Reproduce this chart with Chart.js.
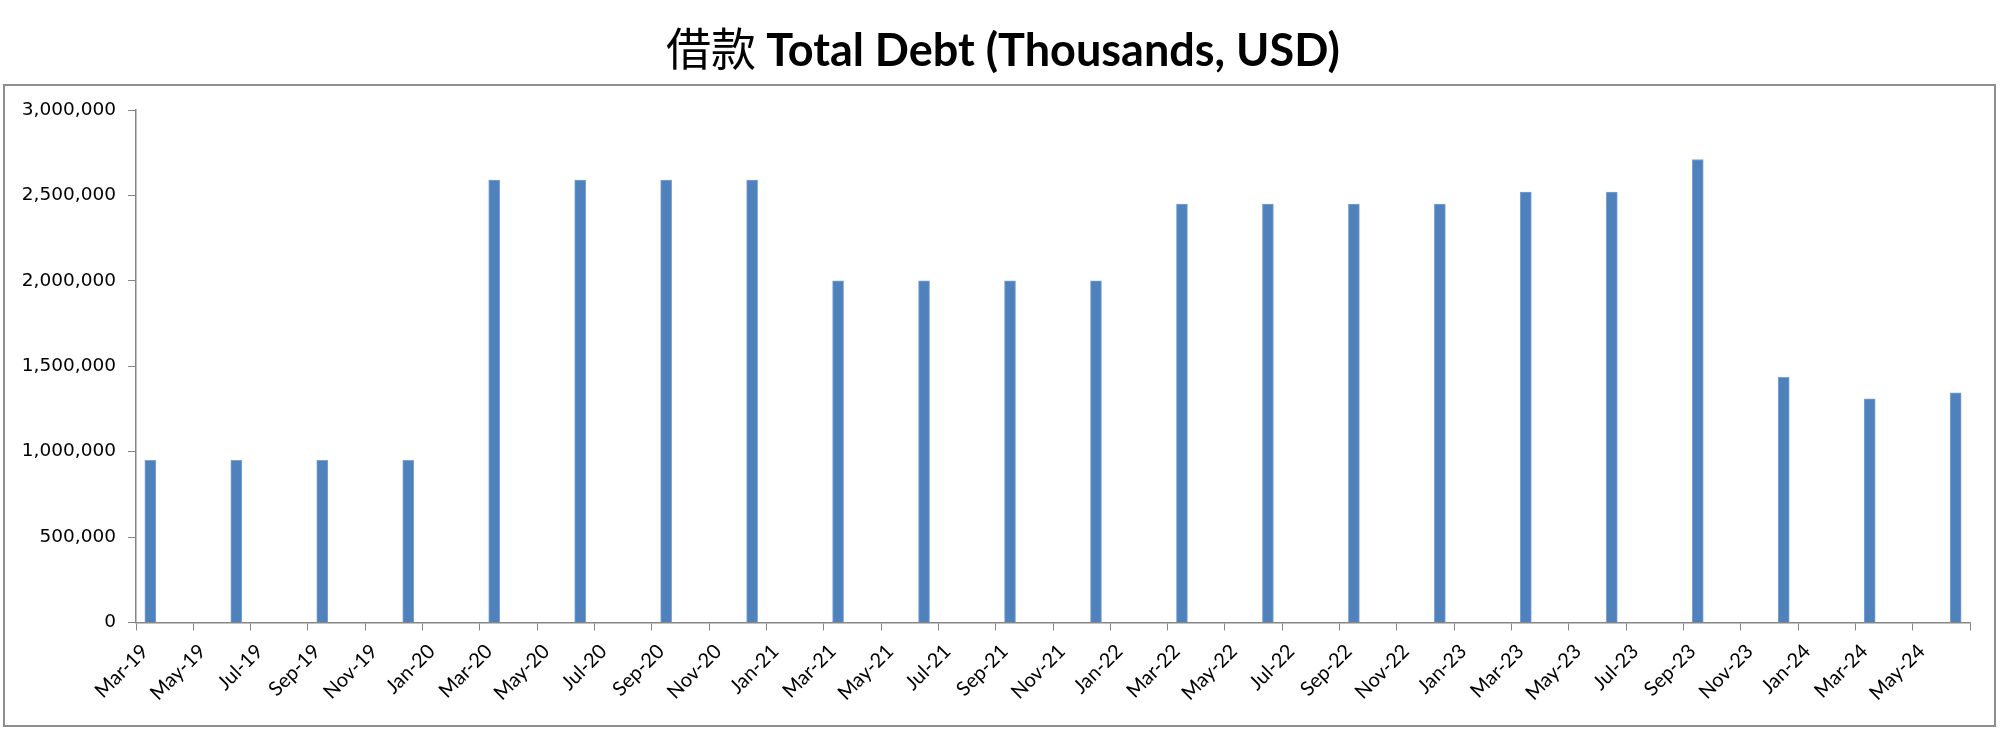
<!DOCTYPE html>
<html lang="en">
<head>
  <meta charset="UTF-8">
  <title>Total Debt</title>
  <style>
    html, body { margin: 0; padding: 0; background: #fff; }
    #wrap { width: 2000px; height: 737px; position: relative; }
  </style>
</head>
<body>
<div id="wrap">
  <canvas id="debtChart" width="2000" height="737"></canvas>
</div>
<script src="https://cdn.jsdelivr.net/npm/chart.js@4.4.1/dist/chart.umd.min.js"></script>
<script>
  // quarter-end dates and total debt (thousands USD)
  const quarters = ['Mar-19', 'Jun-19', 'Sep-19', 'Dec-19', 'Mar-20', 'Jun-20', 'Sep-20', 'Dec-20',
    'Mar-21', 'Jun-21', 'Sep-21', 'Dec-21', 'Mar-22', 'Jun-22', 'Sep-22', 'Dec-22',
    'Mar-23', 'Jun-23', 'Sep-23', 'Dec-23', 'Mar-24', 'Jun-24'];
  const totalDebt = [950000, 950000, 950000, 950000, 2590000, 2590000, 2590000, 2590000,
    2000000, 2000000, 2000000, 2000000, 2450000, 2450000, 2450000, 2450000,
    2520000, 2520000, 2710000, 1435000, 1310000, 1345000];

  // x axis tick labels, every two months
  const tickLabels = ['Mar-19', 'May-19', 'Jul-19', 'Sep-19', 'Nov-19', 'Jan-20', 'Mar-20', 'May-20',
    'Jul-20', 'Sep-20', 'Nov-20', 'Jan-21', 'Mar-21', 'May-21', 'Jul-21', 'Sep-21',
    'Nov-21', 'Jan-22', 'Mar-22', 'May-22', 'Jul-22', 'Sep-22', 'Nov-22', 'Jan-23',
    'Mar-23', 'May-23', 'Jul-23', 'Sep-23', 'Nov-23', 'Jan-24', 'Mar-24', 'May-24'];
  const yTicks = [0, 500000, 1000000, 1500000, 2000000, 2500000, 3000000];

  const monthNames = ['Jan', 'Feb', 'Mar', 'Apr', 'May', 'Jun', 'Jul', 'Aug', 'Sep', 'Oct', 'Nov', 'Dec'];
  const startLabel = tickLabels[0];

  // months since the first tick label
  function monthIndex(label) {
    const toMonths = (s) => {
      const [m, y] = s.split('-');
      return parseInt(y, 10) * 12 + monthNames.indexOf(m);
    };
    return toMonths(label) - toMonths(startLabel);
  }

  // each month is one slot on the date axis, bars sit in the middle of their month
  const points = quarters.map((q, i) => ({ x: monthIndex(q) + 0.5, y: totalDebt[i] }));
  const axisMonths = tickLabels.length * 2;

  const axisGray = '#868686';

  const framePlugin = {
    id: 'frame',
    beforeDraw(chart) {
      const ctx = chart.ctx;
      ctx.save();
      ctx.strokeStyle = '#8e8e8e';
      ctx.lineWidth = 2;
      ctx.strokeRect(4, 85, 1991, 641);
      ctx.restore();
    }
  };

  const titlePlugin = {
    id: 'mixedTitle',
    afterDraw(chart) {
      const ctx = chart.ctx;
      const cjk = '借款 ';
      const latin = 'Total Debt (Thousands, USD)';
      const cjkFont = '400 45px "Noto Sans CJK SC"';
      const latinFont = 'bold 45px Lato';
      ctx.save();
      ctx.fillStyle = '#000';
      ctx.textBaseline = 'alphabetic';
      ctx.font = cjkFont;
      const w1 = ctx.measureText(cjk).width;
      ctx.font = latinFont;
      const w2 = ctx.measureText(latin).width;
      const x0 = 1003 - (w1 + w2) / 2;
      const baseY = 66;
      ctx.textAlign = 'left';
      ctx.font = cjkFont;
      ctx.fillText(cjk, x0, baseY);
      ctx.font = latinFont;
      ctx.fillText(latin, x0 + w1, baseY);
      ctx.restore();
    }
  };

  new Chart(document.getElementById('debtChart'), {
    type: 'bar',
    data: {
      datasets: [{
        label: '借款 Total Debt',
        data: points,
        backgroundColor: '#4f81bd',
        borderColor: '#7aa2d2',
        borderWidth: 1,
        barThickness: 11
      }]
    },
    options: {
      responsive: false,
      animation: false,
      layout: { padding: { left: 6, top: 110, right: 30, bottom: 12 } },
      plugins: {
        legend: { display: false },
        title: { display: false },
        tooltip: { enabled: false }
      },
      scales: {
        x: {
          type: 'linear',
          min: 0,
          max: axisMonths,
          offset: false,
          afterFit: (scale) => { scale.height = 102.5; },
          afterBuildTicks: (scale) => {
            scale.ticks = tickLabels.map((t, i) => ({ value: i * 2 })).concat([{ value: axisMonths }]);
          },
          ticks: {
            autoSkip: false,
            minRotation: 45,
            maxRotation: 45,
            padding: 9,
            labelOffset: 9,
            color: '#000',
            font: { family: 'Lato', size: 20 },
            callback: (v) => tickLabels[v / 2] || ''
          },
          grid: {
            offset: false,
            drawOnChartArea: false,
            drawTicks: true,
            tickLength: 8,
            color: axisGray
          },
          border: { display: true, color: axisGray, width: 1.5 }
        },
        y: {
          min: 0,
          max: 3000000,
          afterFit: (scale) => { scale.width = 130; },
          afterBuildTicks: (scale) => {
            scale.ticks = yTicks.map((v) => ({ value: v }));
          },
          ticks: {
            padding: 12,
            color: '#000',
            font: { family: '"DejaVu Sans"', size: 18.5 },
            callback: (v) => v.toLocaleString('en-US')
          },
          grid: {
            drawOnChartArea: false,
            drawTicks: true,
            tickLength: 8,
            color: axisGray
          },
          border: { display: true, color: axisGray, width: 1.5 }
        }
      }
    },
    plugins: [framePlugin, titlePlugin]
  });
</script>
</body>
</html>
